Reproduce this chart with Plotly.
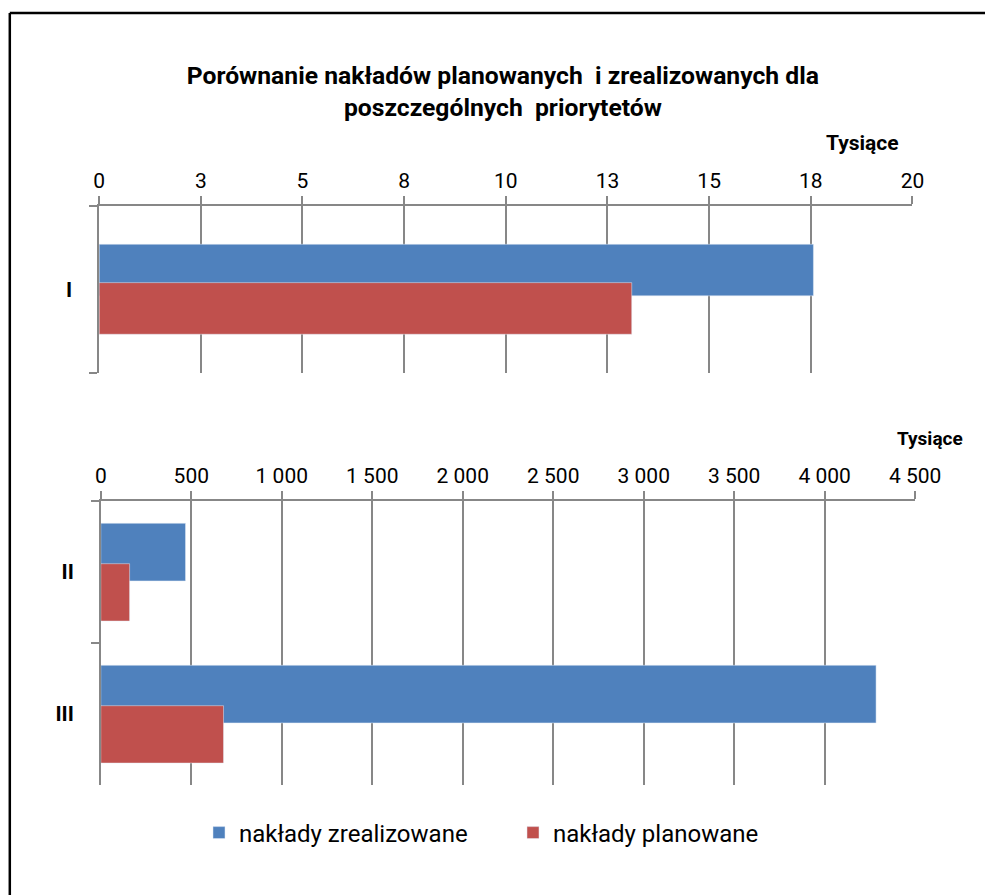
import plotly.graph_objects as go

# ---------------- data ----------------
categories_top = ["I"]
categories_bottom = ["II", "III"]
series_names = ["nakłady zrealizowane", "nakłady planowane"]

realized_top = [17565]
planned_top = [13097]
realized_bottom = [468000, 4284000]
planned_bottom = [159000, 678000]

top_tickvals = [0, 2500, 5000, 7500, 10000, 12500, 15000, 17500, 20000]
top_ticktext = ["0", "3", "5", "8", "10", "13", "15", "18", "20"]
bottom_tickvals = [0, 500000, 1000000, 1500000, 2000000, 2500000,
                   3000000, 3500000, 4000000, 4500000]
bottom_ticktext = ["0", "500", "1 000", "1 500", "2 000", "2 500",
                   "3 000", "3 500", "4 000", "4 500"]

title_text = "Porównanie nakładów planowanych  i zrealizowanych dla<br>poszczególnych  priorytetów"
unit_label = "Tysiące"

# ---------------- style ----------------
W, H = 1012, 895
BLUE = "#4F81BD"
RED = "#C0504D"
GRID = "#878787"
FONT = "Roboto, 'Liberation Sans', sans-serif"


def px_x(p):
    return ((p - 5.2) / 0.968) / W


def px_y(p):
    return 1 - p / H


fig = go.Figure()

fig.add_trace(go.Bar(y=categories_top, x=realized_top, orientation="h",
                     xaxis="x", yaxis="y", marker_color=BLUE,
                     width=0.308, offset=-0.270, name=series_names[0],
                     legendgroup="z", hoverinfo="x+y"))
fig.add_trace(go.Bar(y=categories_top, x=planned_top, orientation="h",
                     xaxis="x", yaxis="y", marker_color=RED,
                     width=0.308, offset=-0.041, name=series_names[1],
                     legendgroup="p", hoverinfo="x+y"))
fig.add_trace(go.Bar(y=categories_bottom, x=realized_bottom, orientation="h",
                     xaxis="x2", yaxis="y2", marker_color=BLUE,
                     width=0.406, offset=-0.343, name=series_names[0],
                     legendgroup="z", showlegend=False, hoverinfo="x+y"))
fig.add_trace(go.Bar(y=categories_bottom, x=planned_bottom, orientation="h",
                     xaxis="x2", yaxis="y2", marker_color=RED,
                     width=0.404, offset=-0.0585, name=series_names[1],
                     legendgroup="p", showlegend=False, hoverinfo="x+y"))

xcommon = dict(side="top", showgrid=True, gridcolor=GRID, gridwidth=1.5,
               showline=True, linecolor=GRID, linewidth=1.5,
               ticks="outside", ticklen=8, tickwidth=1.5, tickcolor=GRID,
               zeroline=False, tickfont=dict(family=FONT, size=21, color="black"),
               ticklabelstandoff=0, fixedrange=True)
ycommon = dict(showgrid=False, showline=True, linecolor=GRID, linewidth=1.5,
               ticks="outside", ticklen=8, tickwidth=1.5, tickcolor=GRID,
               tickson="boundaries", zeroline=False,
               tickfont=dict(family=FONT, size=21, color="black", weight="bold"),
               ticklabelstandoff=21, fixedrange=True)

fig.update_layout(
    width=W, height=H,
    margin=dict(l=0, r=0, t=0, b=0),
    paper_bgcolor="white", plot_bgcolor="white",
    barmode="overlay",
    font=dict(family=FONT, color="black"),
    title=dict(text=title_text, x=px_x(492), y=px_y(84), xanchor="center",
               yanchor="middle",
               font=dict(family=FONT, size=24.7, color="black", weight="bold")),
    xaxis=dict(domain=[px_x(98.3), px_x(911.3)], range=[0, 20000],
               tickvals=top_tickvals, ticktext=top_ticktext, anchor="y", **xcommon),
    yaxis=dict(domain=[px_y(373.3), px_y(205.7)], range=[0.5, -0.5],
               anchor="x", **ycommon),
    xaxis2=dict(domain=[px_x(100), px_x(914)], range=[0, 4500000],
                tickvals=bottom_tickvals, ticktext=bottom_ticktext, anchor="y2", **xcommon),
    yaxis2=dict(domain=[px_y(785), px_y(501)], range=[1.5, -0.5],
                categoryorder="array", categoryarray=categories_bottom,
                anchor="x2", **ycommon),
    legend=dict(orientation="h", x=px_x(512), y=px_y(833), xanchor="center",
                yanchor="middle", font=dict(family=FONT, size=24, color="black"),
                entrywidth=269, itemclick=False, itemdoubleclick=False),
    showlegend=True,
    annotations=[
        dict(text=unit_label, xref="paper", yref="paper", x=px_x(900), y=px_y(143),
             xanchor="right", yanchor="middle", showarrow=False,
             font=dict(family=FONT, size=21, color="black", weight="bold")),
        dict(text=unit_label, xref="paper", yref="paper", x=px_x(964), y=px_y(438),
             xanchor="right", yanchor="middle", showarrow=False,
             font=dict(family=FONT, size=19, color="black", weight="bold")),
    ],
    shapes=[
        dict(type="line", xref="paper", yref="paper", x0=px_x(9), x1=1.0,
             y0=px_y(13), y1=px_y(13), line=dict(color="black", width=2.5)),
        dict(type="line", xref="paper", yref="paper", x0=px_x(9), x1=px_x(9),
             y0=px_y(13), y1=0.0, line=dict(color="black", width=2.5)),
    ],
)

fig.write_html(
    "out.html",
    config={"displayModeBar": False, "responsive": False},
    post_script=("document.body.style.margin='0';"
                 "document.body.style.overflow='hidden';"
                 "document.documentElement.style.overflow='hidden';"),
)
